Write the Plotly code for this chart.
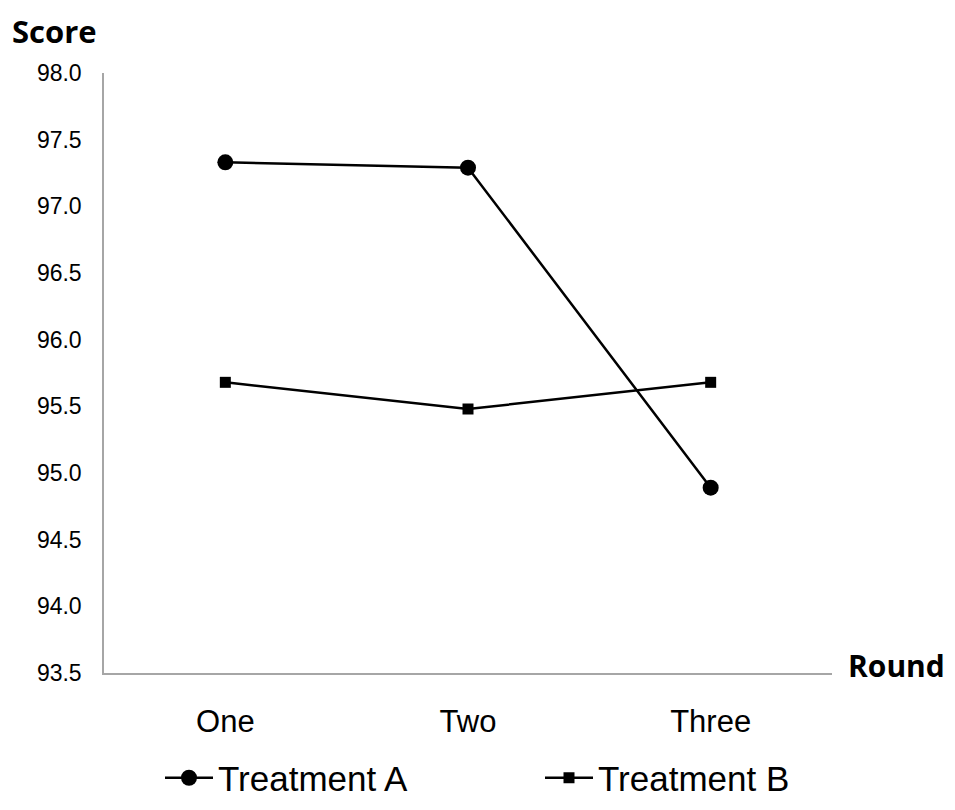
import plotly.graph_objects as go

rounds = ["One", "Two", "Three"]
treatment_a = [97.33, 97.29, 94.89]
treatment_b = [95.68, 95.48, 95.68]
y_ticks = [93.5, 94.0, 94.5, 95.0, 95.5, 96.0, 96.5, 97.0, 97.5, 98.0]
y_tick_text = [f"{v:.1f}" for v in y_ticks]

font_fam = "Liberation Sans, Arial, sans-serif"
W, H = 939, 794

fig = go.Figure()
fig.add_trace(go.Scatter(x=[0, 1, 2], y=treatment_a, name="Treatment A", mode="lines+markers",
                         line=dict(color="black", width=2.5),
                         marker=dict(symbol="circle", size=16, color="black"),
                         legend="legend"))
fig.add_trace(go.Scatter(x=[0, 1, 2], y=treatment_b, name="Treatment B", mode="lines+markers",
                         line=dict(color="black", width=2.5),
                         marker=dict(symbol="square", size=11, color="black"),
                         legend="legend2"))

legend_common = dict(orientation="h", xref="container", yref="container",
                     xanchor="left", y=24 / H, yanchor="middle",
                     font=dict(size=35, family=font_fam), itemwidth=48,
                     bgcolor="rgba(0,0,0,0)")

fig.update_layout(
    width=W, height=H,
    margin=dict(l=96, r=115, t=65, b=129),
    plot_bgcolor="white", paper_bgcolor="white",
    font=dict(family=font_fam, size=20, color="black"),
    showlegend=True,
    legend=dict(x=152 / W, **legend_common),
    legend2=dict(x=532 / W, **legend_common),
    xaxis=dict(range=[-0.5, 2.5], tickvals=[0, 1, 2], ticktext=rounds,
               showline=True, linecolor="#a6a6a6", linewidth=1.5, showgrid=False,
               zeroline=False, ticks="", tickfont=dict(size=31), ticklabelstandoff=20,
               automargin=False),
    yaxis=dict(range=[93.5, 98.0], tickvals=y_ticks, ticktext=y_tick_text,
               showline=True, linecolor="#a6a6a6", linewidth=1.5, showgrid=False,
               ticks="", zeroline=False, tickfont=dict(size=23),
               ticklabelstandoff=16, automargin=False),
    annotations=[
        dict(text="<b>Score</b>", xref="paper", yref="paper", x=-0.129, y=1.0,
             xanchor="left", yanchor="top", yshift=65, showarrow=False,
             font=dict(size=31, family="Open Sans, sans-serif")),
        dict(text="<b>Round</b>", xref="paper", yref="paper", x=1.0, y=0.0,
             xanchor="left", yanchor="middle", xshift=14, yshift=8, showarrow=False,
             font=dict(size=30, family="Open Sans, sans-serif")),
    ],
)

fig.write_html("out.html")
